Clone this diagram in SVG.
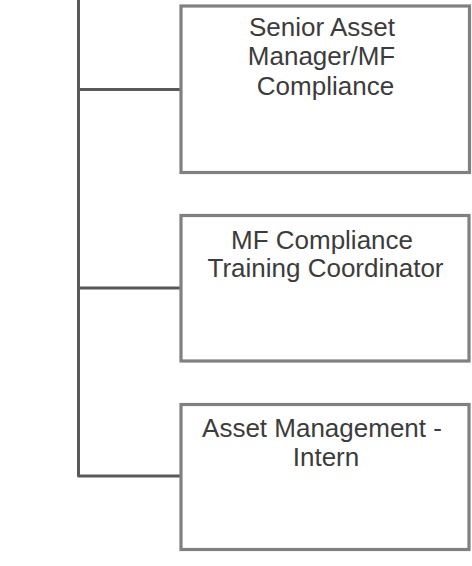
<svg xmlns="http://www.w3.org/2000/svg" width="472" height="566" viewBox="0 0 472 566">
<style>
.box{fill:#fff;stroke:#808080;stroke-width:3.2}
.con{fill:none;stroke:#595959;stroke-width:3;stroke-linejoin:round}
.t{font-family:"Liberation Sans",Arial,sans-serif;font-size:26px;fill:#3c3c3c;text-anchor:middle}
</style>
<rect width="472" height="566" fill="#fff"/>
<g id="connectors">
<path class="con" d="M78.5,0 V476 H181"/>
<path class="con" d="M78.5,89.5 H181"/>
<path class="con" d="M78.5,288 H181"/>
</g>
<g id="n1">
<rect class="box" x="181" y="6" width="288.5" height="166.5"/>
<text class="t"><tspan x="322" y="36">Senior Asset</tspan><tspan x="321.5" y="65">Manager/MF</tspan><tspan x="325.5" y="94.5">Compliance</tspan></text>
</g>
<g id="n2">
<rect class="box" x="181" y="215.5" width="288" height="145.5"/>
<text class="t"><tspan x="322" y="248.5">MF Compliance</tspan><tspan x="325.5" y="277">Training Coordinator</tspan></text>
</g>
<g id="n3">
<rect class="box" x="181" y="404.5" width="288" height="145"/>
<text class="t"><tspan x="322" y="437">Asset Management -</tspan><tspan x="326" y="465.5">Intern</tspan></text>
</g>
</svg>
